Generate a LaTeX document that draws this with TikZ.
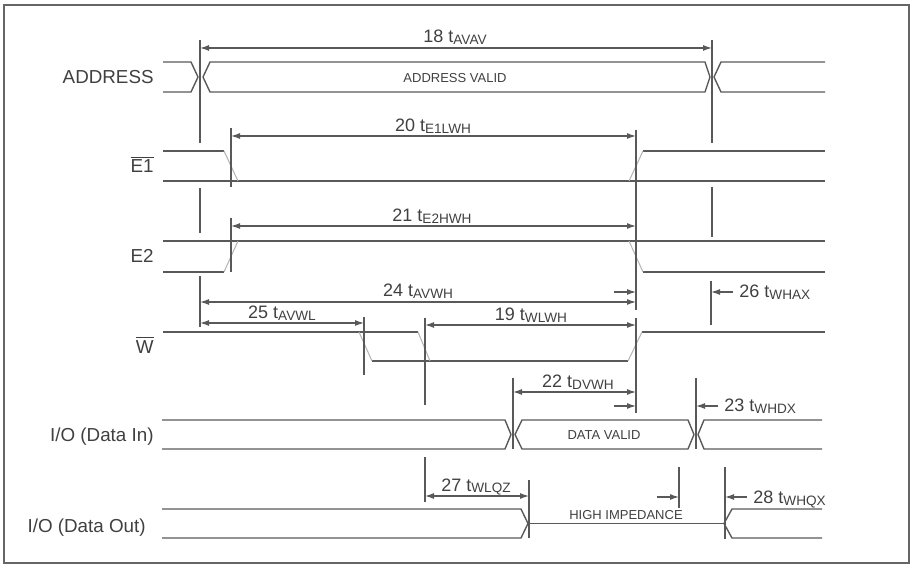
\documentclass[tikz,border=0pt]{standalone}
\usepackage{fontspec}
\setmainfont{Liberation Sans}
\usepackage{tikz}
\usetikzlibrary{arrows.meta}
\tikzset{
  wave/.style={draw=black!65, line width=0.7pt, line join=round},
  slope/.style={draw=black!30, line width=0.5pt},
  extline/.style={draw=black!65, line width=0.6pt},
  dimline/.style={{Latex[length=4.5pt,width=3pt]}-{Latex[length=4.5pt,width=3pt]}, draw=black!65, line width=0.6pt},
  pointer/.style={-{Latex[length=4.5pt,width=3pt]}, draw=black!65, line width=0.6pt},
  sig/.style={anchor=base east, inner sep=0pt, font=\fontsize{9.4}{11}\selectfont, text=black!75},
  tlabel/.style={anchor=base, inner sep=0pt, font=\fontsize{9}{11}\selectfont, text=black!75},
  inlabel/.style={inner sep=0pt, font=\fontsize{6.5}{8}\selectfont, text=black!75}
}
\newcommand{\tsub}[2]{#1 t\raisebox{-1pt}{\fontsize{6.8}{7}\selectfont #2}}

\begin{document}
\begin{tikzpicture}[x=0.5pt, y=-0.5pt]
\useasboundingbox (0,0) rectangle (912,567);
\draw[draw=black!60, line width=0.8pt] (4,5) rectangle (909,563);

% signal names
\node[sig] (addr) at (154,84) {ADDRESS};
\node[sig] (ea) at (154,173) {$\overline{\hbox{E1}}$};
\node[sig] (eb) at (154,263) {E2};
\node[sig] (we) at (154,353) {$\overline{\hbox{W}}$};
\node[sig] (din) at (154,442) {I/O (Data In)};
\node[sig] (dout) at (146,532) {I/O (Data Out)};

% ADDRESS
\draw[wave] (163,62) -- (191,62) -- (198,77) -- (191,92) -- (163,92);
\draw[wave] (203,77) -- (210,62) -- (705,62) -- (710,77) -- (705,92) -- (210,92) -- cycle;
\draw[wave] (825,62) -- (721,62) -- (714,77) -- (721,92) -- (825,92);
\node[inlabel] (av) at (455,78) {ADDRESS VALID};

% E1
\draw[wave] (163,151) -- (224,151);
\draw[wave] (163,181) -- (825,181);
\draw[wave] (643,151) -- (825,151);
\draw[slope] (224,151) -- (238,181) (629,181) -- (643,151);

% E2
\draw[wave] (163,272) -- (224,272);
\draw[wave] (163,241) -- (825,241);
\draw[wave] (643,272) -- (825,272);
\draw[slope] (224,272) -- (238,241) (629,241) -- (643,272);

% W
\draw[wave] (163,332) -- (418,332);
\draw[wave] (372,361) -- (628,361);
\draw[wave] (642,332) -- (825,332);
\draw[slope] (359,332) -- (372,361) (418,332) -- (430,361) (628,361) -- (642,332);

% I/O (Data In)
\draw[wave] (162,420) -- (505,420) -- (511,434.5) -- (505,449) -- (162,449);
\draw[wave] (515,434.5) -- (522,420) -- (688,420) -- (694,434.5) -- (688,449) -- (522,449) -- cycle;
\draw[wave] (822,420) -- (704,420) -- (698,434.5) -- (704,449) -- (822,449);
\node[inlabel] (dv) at (604,435) {DATA VALID};

% I/O (Data Out)
\draw[wave] (162,509) -- (521,509) -- (528,523.5) -- (521,538) -- (162,538);
\draw[wave] (528,523.5) -- (724,523.5);
\draw[wave] (822,509) -- (732,509) -- (724,523.5) -- (732,538) -- (822,538);
\node[inlabel] (hz) at (626,515) {HIGH IMPEDANCE};

% extension lines
\draw[extline] (200,40) -- (200,143) (200,188) -- (200,233) (200,276) -- (200,327);
\draw[extline] (712,40) -- (712,143) (712,187) -- (712,237) (711,281) -- (711,325);
\draw[extline] (231,128) -- (231,187) (231,218) -- (231,272);
\draw[extline] (636,130) -- (636,310) (636,318) -- (636,413);
\draw[extline] (364,317) -- (364,375);
\draw[extline] (425,318) -- (425,405) (425,457) -- (425,502);
\draw[extline] (513,378) -- (513,449) (696,378) -- (696,449);
\draw[extline] (529,480) -- (529,538);
\draw[extline] (679,467) -- (679,508) (725,467) -- (725,539);

% timing parameters
\draw[dimline] (200,48) -- (712,48);
\node[tlabel] (p18) at (455,43) {\tsub{18}{AVAV}};
\draw[dimline] (231,136) -- (636,136);
\node[tlabel] (p20) at (433,132) {\tsub{20}{E1LWH}};
\draw[dimline] (231,226) -- (636,226);
\node[tlabel] (p21) at (432,222) {\tsub{21}{E2HWH}};
\draw[dimline] (200,302) -- (636,302);
\node[tlabel] (p24) at (418,297) {\tsub{24}{AVWH}};
\draw[dimline] (200,323) -- (364,323);
\node[tlabel] (p25) at (282,319) {\tsub{25}{AVWL}};
\draw[dimline] (425,325) -- (636,325);
\node[tlabel] (p19) at (531,321) {\tsub{19}{WLWH}};
\draw[dimline] (513,392) -- (636,392);
\node[tlabel] (p22) at (578,387) {\tsub{22}{DVWH}};
\draw[dimline] (425,496) -- (529,496);
\node[tlabel] (p27) at (476,491) {\tsub{27}{WLQZ}};

\draw[pointer] (614,292) -- (636,292);
\draw[pointer] (733,292) -- (711,292);
\node[tlabel, anchor=base west] (p26) at (739,298) {\tsub{26}{WHAX}};
\draw[pointer] (614,406) -- (636,406);
\draw[pointer] (718,406) -- (696,406);
\node[tlabel, anchor=base west] (p23) at (724,412) {\tsub{23}{WHDX}};
\draw[pointer] (657,497) -- (679,497);
\draw[pointer] (747,497) -- (725,497);
\node[tlabel, anchor=base west] (p28) at (753,503) {\tsub{28}{WHQX}};
\end{tikzpicture}
\end{document}
